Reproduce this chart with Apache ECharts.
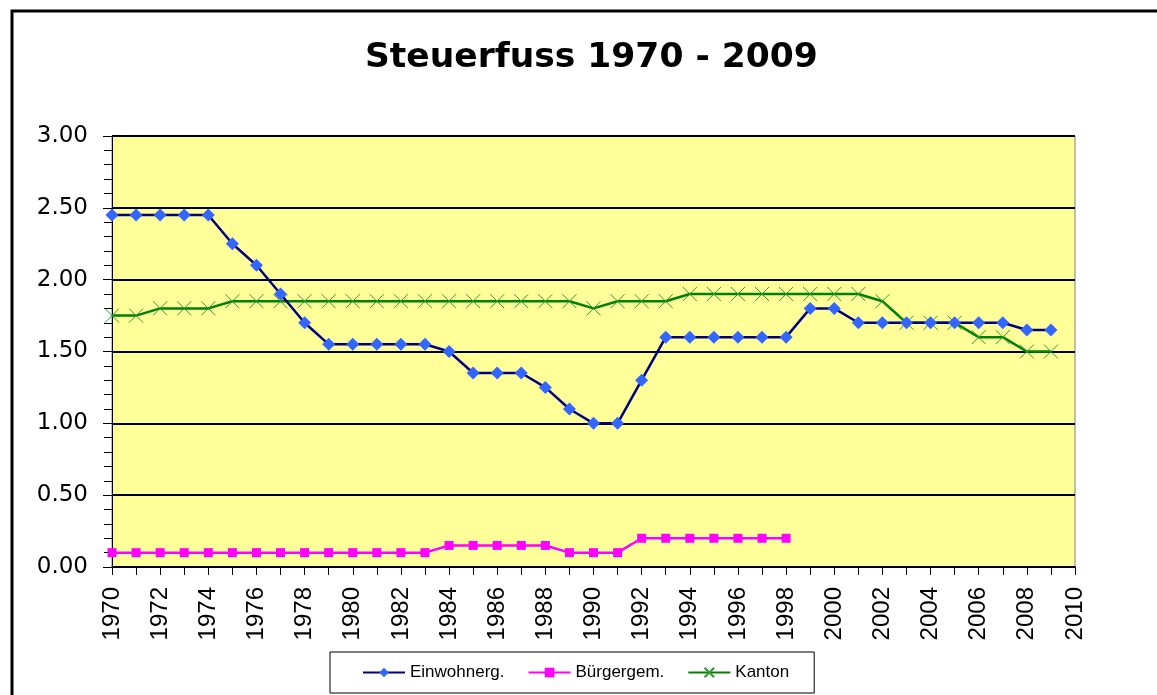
<!DOCTYPE html>
<html>
<head>
<meta charset="utf-8">
<title>Steuerfuss 1970 - 2009</title>
<script src="https://cdn.jsdelivr.net/npm/echarts@6/dist/echarts.min.js"></script>
<style>
  html, body { margin: 0; padding: 0; background: #fff; }
  #chart { width: 1157px; height: 695px; }
</style>
</head>
<body>
<div id="chart"></div>
<script>
// Jahre 1970 - 2009
var years = [];
for (var y = 1970; y <= 2009; y++) years.push(y);

var einwohnerg = [
  2.45, 2.45, 2.45, 2.45, 2.45, 2.25, 2.10, 1.90, 1.70, 1.55,
  1.55, 1.55, 1.55, 1.55, 1.50, 1.35, 1.35, 1.35, 1.25, 1.10,
  1.00, 1.00, 1.30, 1.60, 1.60, 1.60, 1.60, 1.60, 1.60, 1.80,
  1.80, 1.70, 1.70, 1.70, 1.70, 1.70, 1.70, 1.70, 1.65, 1.65
];
// Bürgergemeinde nur bis 1998
var buergergem = [
  0.10, 0.10, 0.10, 0.10, 0.10, 0.10, 0.10, 0.10, 0.10, 0.10,
  0.10, 0.10, 0.10, 0.10, 0.15, 0.15, 0.15, 0.15, 0.15, 0.10,
  0.10, 0.10, 0.20, 0.20, 0.20, 0.20, 0.20, 0.20, 0.20
];
var kanton = [
  1.75, 1.75, 1.80, 1.80, 1.80, 1.85, 1.85, 1.85, 1.85, 1.85,
  1.85, 1.85, 1.85, 1.85, 1.85, 1.85, 1.85, 1.85, 1.85, 1.85,
  1.80, 1.85, 1.85, 1.85, 1.90, 1.90, 1.90, 1.90, 1.90, 1.90,
  1.90, 1.90, 1.85, 1.70, 1.70, 1.70, 1.60, 1.60, 1.50, 1.50
];

function pairs(values) {
  return values.map(function (v, i) { return [years[i], v]; });
}

var font = 'DejaVu Sans, Verdana, sans-serif';
var arial = 'Liberation Sans, Arial, sans-serif';
var chart = echarts.init(document.getElementById('chart'));

chart.setOption({
  animation: false,
  backgroundColor: '#fff',
  textStyle: { fontFamily: font },
  graphic: [{
    type: 'rect',
    shape: { x: 12, y: 11, width: 1160, height: 700 },
    style: { fill: 'none', stroke: '#000', lineWidth: 3 },
    silent: true
  }],
  title: {
    text: 'Steuerfuss 1970 - 2009',
    left: 360,
    top: 36,
    textStyle: { fontFamily: font, fontSize: 34.5, fontWeight: 'bold', color: '#000' }
  },
  legend: {
    left: 330,
    top: 652,
    padding: [12, 25, 12, 32],
    borderColor: '#000',
    borderWidth: 1,
    itemWidth: 42,
    itemHeight: 12,
    itemGap: 23,
    textStyle: { fontFamily: arial, fontSize: 17, color: '#000' },
    data: ['Einwohnerg.', 'Bürgergem.', 'Kanton']
  },
  grid: {
    left: 112,
    right: 82,
    top: 136,
    bottom: 128,
    show: true,
    backgroundColor: '#FFFF99',
    borderColor: '#808080',
    borderWidth: 1
  },
  xAxis: {
    type: 'value',
    min: 1970,
    max: 2010,
    interval: 1,
    axisLine: { lineStyle: { color: '#000', width: 1.5 } },
    axisTick: { show: true, length: 8, inside: false, lineStyle: { color: '#000' } },
    splitLine: { show: false },
    axisLabel: {
      rotate: 90,
      fontFamily: arial,
      fontSize: 24,
      color: '#000',
      margin: 20,
      formatter: function (v) { return v % 2 === 0 ? String(v) : ''; }
    }
  },
  yAxis: {
    type: 'value',
    min: 0,
    max: 3,
    interval: 0.5,
    axisLine: { show: true, lineStyle: { color: '#000', width: 1 } },
    axisTick: { show: true, length: 9, lineStyle: { color: '#000' } },
    minorTick: { show: true, splitNumber: 5, length: 8, lineStyle: { color: '#000' } },
    splitLine: { show: true, lineStyle: { color: '#000', width: 2 } },
    axisLabel: {
      fontSize: 23,
      color: '#000',
      margin: 24,
      formatter: function (v) { return v.toFixed(2); }
    }
  },
  series: [
    {
      name: 'Einwohnerg.',
      type: 'line',
      data: pairs(einwohnerg),
      symbol: 'diamond',
      symbolSize: 13,
      showAllSymbol: true,
      lineStyle: { color: '#000080', width: 2.5 },
      itemStyle: { color: '#3366FF' },
      z: 4
    },
    {
      name: 'Bürgergem.',
      type: 'line',
      data: pairs(buergergem),
      symbol: 'rect',
      symbolSize: 9,
      showAllSymbol: true,
      lineStyle: { color: '#FF00FF', width: 2.5 },
      itemStyle: { color: '#FF00FF' },
      z: 3
    },
    {
      name: 'Kanton',
      type: 'line',
      data: pairs(kanton),
      symbol: 'path://M0,0L10,10M10,0L0,10',
      symbolSize: 14,
      showAllSymbol: true,
      lineStyle: { color: '#008000', width: 2.5 },
      itemStyle: { color: 'none', borderColor: '#339933', borderWidth: 1 },
      z: 3
    }
  ]
});
</script>
</body>
</html>
